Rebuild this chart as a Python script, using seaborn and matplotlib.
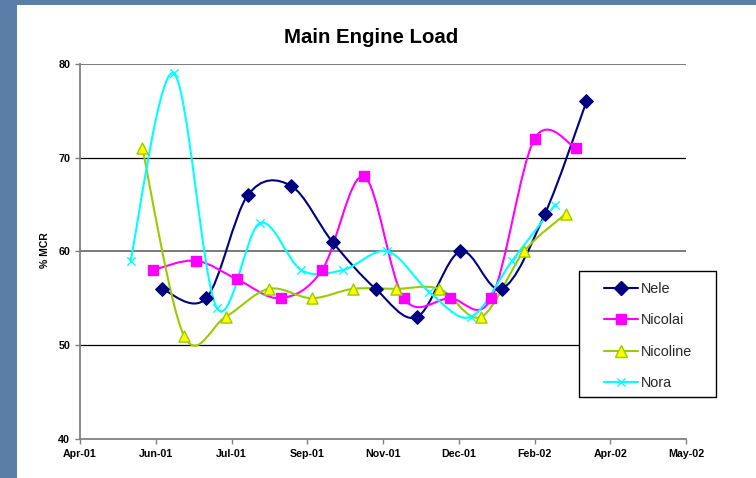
import numpy as np
import pandas as pd
import matplotlib
matplotlib.use("Agg")
import matplotlib.pyplot as plt
from matplotlib.path import Path
from matplotlib.patches import PathPatch, Rectangle
from matplotlib.lines import Line2D
import matplotlib.dates as mdates
import seaborn as sns

# ---------------- data ----------------
series_names = ["Nele", "Nicolai", "Nicoline", "Nora"]

nele_dates = ["2001-06-09", "2001-07-09", "2001-08-06", "2001-09-04", "2001-10-02", "2001-10-31",
              "2001-11-28", "2001-12-27", "2002-01-24", "2002-02-22", "2002-03-22"]
nele_values = [56, 55, 66, 67, 61, 56, 53, 60, 56, 64, 76]

nicolai_dates = ["2001-06-03", "2001-07-02", "2001-07-30", "2001-08-28", "2001-09-25", "2001-10-23",
                 "2001-11-19", "2001-12-20", "2002-01-17", "2002-02-15", "2002-03-15"]
nicolai_values = [58, 59, 57, 55, 58, 68, 55, 55, 55, 72, 71]

nicoline_dates = ["2001-05-27", "2001-06-24", "2001-07-22", "2001-08-20", "2001-09-18", "2001-10-16",
                  "2001-11-14", "2001-12-13", "2002-01-10", "2002-02-08", "2002-03-08"]
nicoline_values = [71, 51, 53, 56, 55, 56, 56, 56, 53, 60, 64]

nora_dates = ["2001-05-19", "2001-06-17", "2001-07-16", "2001-08-14", "2001-09-11", "2001-10-09",
              "2001-11-08", "2001-12-06", "2002-01-03", "2002-01-31", "2002-03-01"]
nora_values = [59, 79, 54, 63, 58, 58, 60, 55.7, 53, 59, 65]

x_axis_start = "2001-04-15"
x_tick_step_days = 51
x_tick_labels = ["Apr-01", "Jun-01", "Jul-01", "Sep-01", "Nov-01", "Dec-01", "Feb-02", "Apr-02", "May-02"]
y_ticks = [40, 50, 60, 70, 80]

title_text = "Main Engine Load"
y_label_text = "% MCR"

# ---------------- styles ----------------
styles = {
    "Nele":     dict(line="#000080", marker="D", face="#000080", edge="#000080", ms=6.8, mew=1.0),
    "Nicolai":  dict(line="#FF00FF", marker="s", face="#FF00FF", edge="#FF00FF", ms=7.0, mew=1.0),
    "Nicoline": dict(line="#99CC00", marker="^", face="#FFFF00", edge="#99CC00", ms=8.0, mew=1.0),
    "Nora":     dict(line="#00FFFF", marker="x", face="#00FFFF", edge="#00FFFF", ms=6.0, mew=1.0),
}

data = {
    "Nele": (nele_dates, nele_values),
    "Nicolai": (nicolai_dates, nicolai_values),
    "Nicoline": (nicoline_dates, nicoline_values),
    "Nora": (nora_dates, nora_values),
}

W, H = 756, 478

sns.set_theme(style="white")
plt.rcParams["font.family"] = ["Liberation Sans", "DejaVu Sans"]

fig = plt.figure(figsize=(W / 100, H / 100), dpi=100, facecolor="#5b7ea8")
fig.patches.append(Rectangle((17 / W, 0), 1 - 17 / W, 1 - 5 / H, transform=fig.transFigure,
                             facecolor="white", edgecolor="none", zorder=-10))

ax = fig.add_axes([80 / W, 1 - 438.7 / H, 606 / W, 374.7 / H])
ax.set_facecolor("white")


def smooth_path(xs, ys):
    pts = np.column_stack([xs, ys]).astype(float)
    n = len(pts)
    verts = [pts[0]]
    codes = [Path.MOVETO]
    for i in range(n - 1):
        p0 = pts[i - 1] if i > 0 else pts[i]
        p1 = pts[i]
        p2 = pts[i + 1]
        p3 = pts[i + 2] if i + 2 < n else pts[i + 1]
        c1 = p1 + (p2 - p0) / 6.0
        c2 = p2 - (p3 - p1) / 6.0
        verts += [c1, c2, p2]
        codes += [Path.CURVE4] * 3
    return Path(verts, codes)


handles = []
for name in series_names:
    d, v = data[name]
    st = styles[name]
    dt = pd.to_datetime(d)
    df = pd.DataFrame({"date": dt, "value": v})
    xs = mdates.date2num(dt)
    ax.add_patch(PathPatch(smooth_path(xs, v), facecolor="none", edgecolor=st["line"],
                           lw=1.5, zorder=2, capstyle="round", joinstyle="round"))
    if st["marker"] == "x":
        sns.scatterplot(data=df, x="date", y="value", ax=ax, marker="x", s=st["ms"] ** 2,
                        color=st["line"], linewidth=st["mew"], zorder=3, legend=False)
    else:
        sns.scatterplot(data=df, x="date", y="value", ax=ax, marker=st["marker"], s=st["ms"] ** 2,
                        color=st["face"], edgecolor=st["edge"], linewidth=st["mew"], zorder=3,
                        legend=False)
    handles.append(Line2D([], [], color=st["line"], lw=1.5, marker=st["marker"],
                          markersize=st["ms"], markerfacecolor=st["face"],
                          markeredgecolor=st["edge"], markeredgewidth=st["mew"]))

start = pd.Timestamp(x_axis_start)
tick_pos = [start + pd.Timedelta(days=k * x_tick_step_days) for k in range(len(x_tick_labels))]
ax.set_xlim(tick_pos[0], tick_pos[-1])
ax.set_xticks(tick_pos)
ax.set_xticklabels(x_tick_labels)
ax.set_ylim(y_ticks[0], y_ticks[-1])
ax.set_yticks(y_ticks)
ax.set_xlabel("")
ax.set_ylabel("")

# grid
ax.set_axisbelow(True)
ax.yaxis.grid(True, color="black", lw=0.9)
ax.xaxis.grid(False)
for gl, val in zip(ax.get_ygridlines(), y_ticks):
    if val == y_ticks[0]:
        gl.set_visible(False)
    elif val in (60, 80):
        gl.set_color("#707070")
        gl.set_linewidth(1.3)

for s in ["top", "right"]:
    ax.spines[s].set_visible(False)
for s in ["left", "bottom"]:
    ax.spines[s].set_color("#808080")
    ax.spines[s].set_linewidth(1.3)

ax.tick_params(axis="both", which="major", direction="out", length=3.5, width=1,
               color="#808080", labelsize=7.7, labelcolor="black")
ax.tick_params(axis="y", pad=3.5, left=True)
ax.tick_params(axis="x", pad=4.0, bottom=True)
for lbl in ax.get_xticklabels() + ax.get_yticklabels():
    lbl.set_fontweight("bold")

ax.set_title(title_text, x=(371.5 - 80) / 606, y=(438.7 - 43) / 374.7, pad=0,
             fontsize=14.7, fontweight="bold", color="black")

ax.set_ylabel(y_label_text, fontsize=7.5, fontweight="bold", color="black")
ax.yaxis.set_label_coords((45 - 80) / 606, (438.7 - 250) / 374.7)
ax.yaxis.label.set_verticalalignment("center")

# legend
fig.patches.append(Rectangle((579 / W, 1 - 397 / H), (716 - 579) / W, (397 - 271) / H,
                             transform=fig.transFigure, facecolor="white", edgecolor="black",
                             lw=1.0, zorder=4))
leg = fig.legend(handles=handles, labels=series_names, loc="upper left",
                 bbox_to_anchor=(604 / W, 1 - 282 / H), bbox_transform=fig.transFigure,
                 frameon=False, borderpad=0, borderaxespad=0, handlelength=2.35,
                 handletextpad=0.22, labelspacing=1.2, fontsize=10.4)
leg.set_zorder(5)

fig.savefig("out.png", dpi=100, facecolor=fig.get_facecolor())
